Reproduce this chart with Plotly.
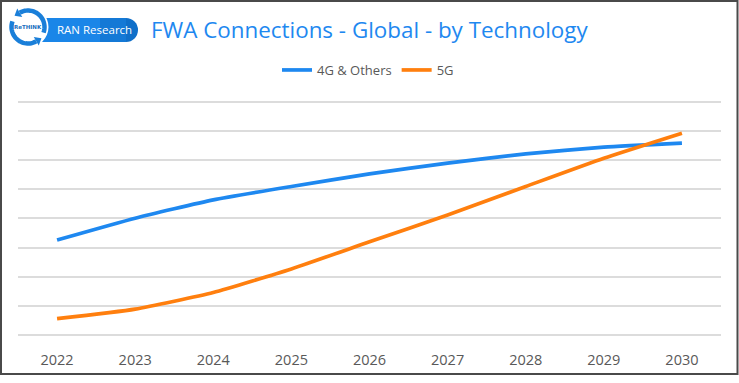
import plotly.graph_objects as go
import math

years = ["2022", "2023", "2024", "2025", "2026", "2027", "2028", "2029", "2030"]
series_4g = [32.6, 40.1, 46.4, 51.0, 55.3, 59.0, 62.2, 64.5, 65.9]
series_5g = [5.6, 8.9, 14.6, 22.7, 32.0, 41.2, 51.0, 60.7, 69.3]
grid_ticks = [0, 10, 20, 30, 40, 50, 60, 70, 80]

W, H = 739, 383

def px(x):
    return x / W

def py(y):
    return 1 - y / H

fig = go.Figure()
fig.add_trace(go.Scatter(x=years, y=series_4g, name="4G & Others", mode="lines",
                         line=dict(color="#1e88f0", width=3.7, shape="spline", smoothing=0.5)))
fig.add_trace(go.Scatter(x=years, y=series_5g, name="5G", mode="lines",
                         line=dict(color="#ff7f0e", width=3.7, shape="spline", smoothing=0.5)))

# logo geometry
cx, cy, r = 28, 27, 16.5
def arc(a0, a1, n=30):
    pts = []
    for i in range(n + 1):
        a = math.radians(a0 + (a1 - a0) * i / n)
        pts.append((px(cx + r * math.cos(a)), py(cy - r * math.sin(a))))
    return "M " + " L ".join(f"{x:.5f},{y:.5f}" for x, y in pts)

def arrow_head(ang, direction):
    a = math.radians(ang)
    ox, oy = cx + r * math.cos(a), cy - r * math.sin(a)
    tx, ty = -math.sin(a) * direction, -math.cos(a) * direction
    nx, ny = math.cos(a), -math.sin(a)
    tip = (ox + 6 * tx, oy + 6 * ty)
    b1 = (ox + 5 * nx, oy + 5 * ny)
    b2 = (ox - 5 * nx, oy - 5 * ny)
    return (f"M {px(tip[0]):.5f},{py(tip[1]):.5f} L {px(b1[0]):.5f},{py(b1[1]):.5f} "
            f"L {px(b2[0]):.5f},{py(b2[1]):.5f} Z")

blue_logo = "#1a7fd9"
shapes = [
    dict(type="path", xref="paper", yref="paper",
         path=f"M {px(40):.5f},{py(18):.5f} L {px(126):.5f},{py(18):.5f} L {px(126):.5f},{py(42):.5f} L {px(40):.5f},{py(42):.5f} Z",
         fillcolor="#1a86e8", line=dict(width=0)),
    dict(type="circle", xref="paper", yref="paper", x0=px(114), x1=px(138), y0=py(42), y1=py(18),
         fillcolor="#0f6fc9", line=dict(width=0)),
    dict(type="rect", xref="paper", yref="paper", x0=px(100), x1=px(126), y0=py(42), y1=py(18),
         fillcolor="#1479d6", line=dict(width=0)),
    dict(type="circle", xref="paper", yref="paper", x0=px(cx - r - 4), x1=px(cx + r + 4),
         y0=py(cy + r + 4), y1=py(cy - r - 4), fillcolor="white", line=dict(width=0)),
    dict(type="path", xref="paper", yref="paper", path=arc(160, 300), line=dict(color=blue_logo, width=4.5)),
    dict(type="path", xref="paper", yref="paper", path=arc(340, 480), line=dict(color=blue_logo, width=4.5)),
    dict(type="path", xref="paper", yref="paper", path=arrow_head(300, 1), fillcolor=blue_logo, line=dict(width=0)),
    dict(type="path", xref="paper", yref="paper", path=arrow_head(120, 1), fillcolor=blue_logo, line=dict(width=0)),
    dict(type="rect", xref="paper", yref="paper", x0=px(1), x1=px(737.5), y0=py(374), y1=py(1),
         line=dict(color="#4a4a4a", width=2), fillcolor="rgba(0,0,0,0)", layer="above"),
]

annotations = [
    dict(text="<b>ReTHINK</b>", x=px(cx), y=py(cy), xref="paper", yref="paper", showarrow=False,
         font=dict(family="DejaVu Sans", size=5.5, color="#1a6fc0"), xanchor="center", yanchor="middle"),
    dict(text="RAN Research", x=px(94), y=py(30), xref="paper", yref="paper", showarrow=False,
         font=dict(family="Open Sans", size=11.5, color="white"), xanchor="center", yanchor="middle"),
    dict(text="FWA Connections - Global - by Technology", x=px(369), y=py(30), xref="paper", yref="paper",
         showarrow=False, font=dict(family="Open Sans", size=22.4, color="#1e88f0"),
         xanchor="center", yanchor="middle"),
]

unit = (335 - 102) / 80.0
fig.update_layout(
    width=W, height=H,
    margin=dict(l=0, r=0, t=0, b=0),
    paper_bgcolor="white", plot_bgcolor="white",
    showlegend=True,
    legend=dict(orientation="h", x=px(368), y=py(70), xanchor="center", yanchor="middle",
                font=dict(family="Open Sans", size=13, color="#595959"),
                bgcolor="rgba(0,0,0,0)"),
    xaxis=dict(domain=[px(18), px(721)], type="category", range=[-0.5, 8.5],
               showgrid=False, showline=False, zeroline=False,
               ticks="outside", ticklen=9, tickcolor="rgba(0,0,0,0)",
               tickfont=dict(family="Open Sans", size=14.5, color="#595959")),
    yaxis=dict(domain=[py(335 + unit), py(102 - unit)], range=[-1, 81], tickvals=grid_ticks,
               showticklabels=False, showgrid=True, gridcolor="#dcdcdc", gridwidth=1.5,
               zeroline=False, showline=False, ticks=""),
    shapes=shapes,
    annotations=annotations,
)

fig.write_html("out.html", config={"displayModeBar": False},
               post_script="document.body.style.margin='0';document.body.style.padding='0';document.body.style.overflow='hidden';")
